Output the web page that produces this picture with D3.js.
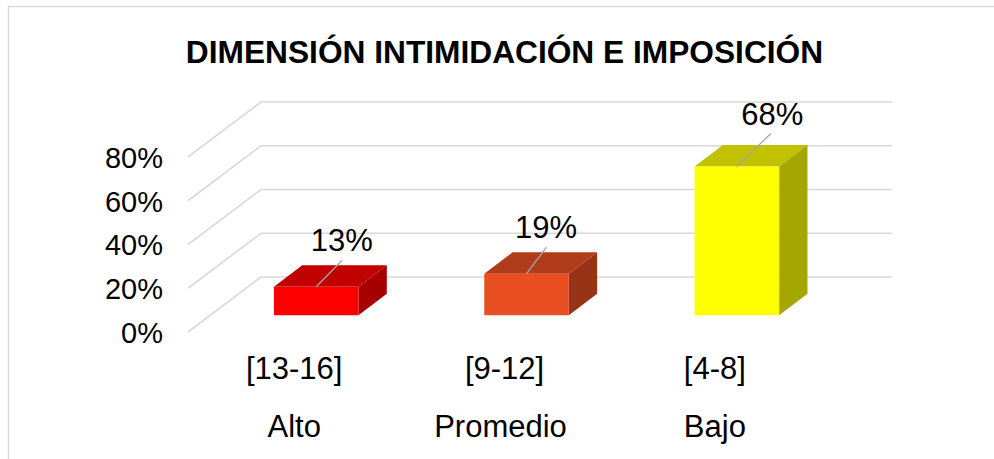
<!DOCTYPE html>
<html><head><meta charset="utf-8">
<script src="https://cdn.jsdelivr.net/npm/d3@7/dist/d3.min.js"></script>
<style>html,body{margin:0;padding:0;background:#fff}svg{display:block}text{font-family:"Liberation Sans",Arial,sans-serif;fill:#000}</style>
</head><body><svg id="c" width="994" height="459"></svg>
<script>
const titleText = "DIMENSIÓN INTIMIDACIÓN E IMPOSICIÓN";
const ranges = ["[13-16]", "[9-12]", "[4-8]"];
const levels = ["Alto", "Promedio", "Bajo"];
const values = [13, 19, 68];
const valueLabels = ["13%", "19%", "68%"];
const colors = ["#ff0000", "#ea4f24", "#ffff00"];
const yTicks = [0, 20, 40, 60, 80];

const svg = d3.select("#c");
// chart frame
svg.append("path").attr("d", d3.line()([[8.5,459],[8.5,6.5],[994,6.5]]))
  .attr("fill","none").attr("stroke","#d9d9d9").attr("stroke-width",1.5);

const FS = 31, TICK_FS = 29;
svg.append("text").attr("x",504.5).attr("y",63).attr("text-anchor","middle")
  .style("font-size","31.7px").style("font-weight","bold").text(titleText);

// front plane scale; depth is a 3D offset
const y = d3.scaleLinear().domain([0,80]).range([332,157]);
const depth = {dx:73, dy:-55};
const floorX0 = 188, floorW = 631;
const barDepth = {f0:0.31, f1:0.70};
const x = d3.scaleBand().domain(d3.range(values.length))
  .range([floorX0+depth.dx*barDepth.f0+0.4, floorX0+depth.dx*barDepth.f0+floorW+0.4])
  .paddingInner(0.598).paddingOuter(0.299);

// gridlines
const grid = svg.append("g").attr("fill","none").attr("stroke","#d9d9d9").attr("stroke-width",1.6);
yTicks.forEach(t=>{
  grid.append("path").attr("d", d3.line()([
    [floorX0,y(t)],[floorX0+depth.dx,y(t)+depth.dy],[floorX0+depth.dx+floorW,y(t)+depth.dy]]));
});

// y axis
const yAxis = svg.append("g").attr("transform","translate(163,1)")
  .call(d3.axisLeft(y).tickValues(yTicks).tickSize(0).tickPadding(0).tickFormat(d=>d+"%"));
yAxis.select(".domain").remove();
yAxis.selectAll("text").style("font-size",TICK_FS+"px").style("font-family",'"Liberation Sans",Arial,sans-serif').attr("fill","#000");

// bars
const ddx = depth.dx*(barDepth.f1-barDepth.f0)*0.995, ddy = depth.dy*(barDepth.f1-barDepth.f0);
const baseY = y(0)+depth.dy*barDepth.f0+0.3;
const h = v => y(0)-y(v);
const shade = (c,k)=>{const r=d3.rgb(c);return d3.rgb(r.r*k,r.g*k,r.b*k).formatHex();};
const poly = d3.line();
const bars = svg.append("g").selectAll("g").data(values).join("g");
bars.append("path").attr("fill",(d,i)=>shade(colors[i],0.755)).attr("d",(d,i)=>{
  const l=x(i),r=l+x.bandwidth(),t=baseY-h(d);
  return poly([[l,t],[r,t],[r+ddx,t+ddy],[l+ddx,t+ddy]])+"Z";});
bars.append("path").attr("fill",(d,i)=>shade(colors[i],0.65)).attr("d",(d,i)=>{
  const r=x(i)+x.bandwidth(),t=baseY-h(d);
  return poly([[r,t],[r+ddx,t+ddy],[r+ddx,baseY+ddy],[r,baseY]])+"Z";});
bars.append("rect").attr("fill",(d,i)=>colors[i])
  .attr("x",(d,i)=>x(i)).attr("width",x.bandwidth())
  .attr("y",d=>baseY-h(d)).attr("height",d=>h(d));

// leader lines and value labels
const leaderDx = [26, 20, 34], leaderDy = [-26.5, -26.5, -33];
const labelDxExtra = [0, 0, 2];
const labelDy = -9;
values.forEach((v,i)=>{
  const cx=x(i)+x.bandwidth()/2, t=baseY-h(v);
  svg.append("line").attr("x1",cx).attr("y1",t).attr("x2",cx+leaderDx[i]).attr("y2",t+leaderDy[i])
    .attr("stroke","#a6a6a6").attr("stroke-width",1.3);
  svg.append("text").attr("x",cx+leaderDx[i]-0.5+labelDxExtra[i]).attr("y",t+leaderDy[i]+labelDy)
    .attr("text-anchor","middle").style("font-size",FS+"px").text(valueLabels[i]);
});

// category labels
const rowOffsets = {ranges:-22, levels:[-22,-26,-22]};
ranges.forEach((s,i)=>{
  const cx=x(i)+x.bandwidth()/2;
  svg.append("text").attr("x",cx+rowOffsets.ranges).attr("y",379).attr("text-anchor","middle").style("font-size",FS+"px").text(s);
  svg.append("text").attr("x",cx+rowOffsets.levels[i]).attr("y",437).attr("text-anchor","middle").style("font-size",FS+"px").text(levels[i]);
});
</script></body></html>
